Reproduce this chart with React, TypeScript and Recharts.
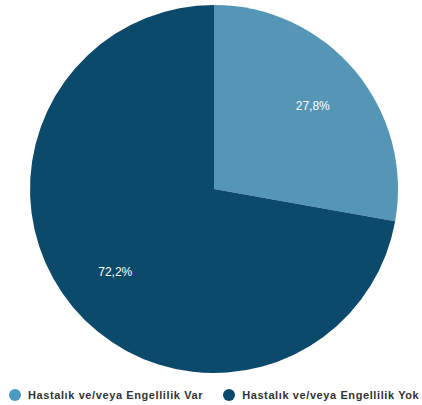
import { PieChart, Pie, Cell, Legend } from "recharts";

// ── Data ─────────────────────────────────────────────
const LABELS = ["Hastalık ve/veya Engellilik Var", "Hastalık ve/veya Engellilik Yok"];
const VALUES = [27.8, 72.2];
const COLORS = ["#5596b6", "#0c4a6c"];
const LEGEND_COLORS = ["#4b9ac4", "#0c4a6c"];

const data = LABELS.map((name, i) => ({ name, value: VALUES[i] }));

const RADIAN = Math.PI / 180;

function renderLabel(props: any) {
  const { cx, cy, midAngle, outerRadius, value } = props;
  const r = outerRadius * 0.7;
  const x = cx + r * Math.cos(-midAngle * RADIAN);
  const y = cy + r * Math.sin(-midAngle * RADIAN);
  return (
    <text
      x={x}
      y={y}
      fill="#ffffff"
      textAnchor="middle"
      dominantBaseline="central"
      fontSize={12}
      fontFamily="Liberation Sans, Arial, sans-serif"
    >
      {value.toFixed(1).replace(".", ",")}%
    </text>
  );
}

function LegendContent() {
  return (
    <div
      style={{
        display: "flex",
        gap: 20,
        paddingLeft: 9,
        fontFamily: "Liberation Sans, Arial, sans-serif",
        fontSize: 11,
        fontWeight: 700,
        letterSpacing: 0.6,
        color: "#333",
        whiteSpace: "nowrap",
      }}
    >
      {LABELS.map((label, i) => (
        <div key={label} style={{ display: "flex", alignItems: "center", gap: 7 }}>
          <span
            style={{
              display: "inline-block",
              flexShrink: 0,
              width: 12,
              height: 12,
              borderRadius: "50%",
              backgroundColor: LEGEND_COLORS[i],
            }}
          />
          <span>{label}</span>
        </div>
      ))}
    </div>
  );
}

export default function App() {
  return (
    <div style={{ width: 422, height: 405, overflow: "hidden" }}>
      <style>{"body{margin:0}"}</style>
      <PieChart width={422} height={405} margin={{ top: 0, right: 0, bottom: 0, left: 0 }}>
        <Pie
          data={data}
          dataKey="value"
          nameKey="name"
          cx={214}
          cy={189}
          outerRadius={184}
          startAngle={90}
          endAngle={-270}
          stroke="none"
          label={renderLabel}
          labelLine={false}
          isAnimationActive={false}
        >
          {data.map((entry, i) => (
            <Cell key={`cell-${i}`} fill={COLORS[i]} />
          ))}
        </Pie>
        <Legend
          verticalAlign="bottom"
          align="left"
          content={LegendContent}
          wrapperStyle={{ bottom: 4, left: 0, width: 422, overflow: "hidden" }}
        />
      </PieChart>
    </div>
  );
}
